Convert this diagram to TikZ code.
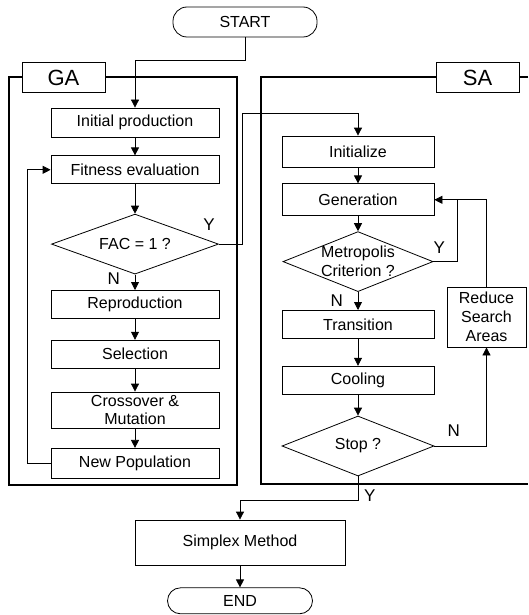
\documentclass[tikz,border=0pt]{standalone}
\usepackage{fontspec}
\setmainfont{Liberation Sans}
\usetikzlibrary{arrows.meta,positioning,shapes.geometric}

\begin{document}
\begin{tikzpicture}[
  x=1pt, y=-1pt,
  box/.style={draw, line width=0.8pt, minimum height=28pt, inner sep=1pt, align=center, font=\fontsize{16}{18}\selectfont},
  gabox/.style={box, minimum width=168pt},
  sabox/.style={box, minimum width=152pt},
  decision/.style={draw, line width=0.8pt, diamond, aspect=2.6, inner sep=0pt, minimum height=60pt, align=center, font=\fontsize{16}{19}\selectfont},
  terminal/.style={draw, line width=0.8pt, rounded corners=14pt, minimum width=144pt, inner sep=1pt, font=\fontsize{16}{18}\selectfont},
  tag/.style={draw, line width=0.9pt, fill=white, minimum width=83pt, minimum height=30pt, inner sep=0pt, font=\fontsize{22}{22}\selectfont},
  frame/.style={line width=1.8pt},
  yn/.style={inner sep=0pt, font=\fontsize{17}{17}\selectfont},
  arrow/.style={-{Triangle[length=8pt,width=8pt]}, line width=0.8pt}
]
\useasboundingbox (0,0) rectangle (528,615);

% GA and SA frames
\draw[frame] (9,77) rectangle (237,485);
\draw[frame] (528,77) -- (261,77) -- (261,484) -- (528,484);
\node[tag] (galabel) at (63.5,77.5) {GA};
\node[tag] (salabel) at (477.5,77.5) {SA};

\node[terminal, minimum height=30pt] (start) at (245,22) {START};

% GA column
\node[gabox, minimum height=29pt] (init) at (135,122.5) {Initial production};
\node[gabox, below=18pt of init] (fit) {Fitness evaluation};
\node[decision, minimum width=167pt, below=29.5pt of fit] (fac) {FAC = 1 ?};
\node[gabox, below=15.5pt of fac] (repro) {Reproduction};
\node[gabox, below=21pt of repro] (sel) {Selection};
\node[gabox, minimum height=36pt, below=23pt of sel] (cross) {Crossover \&\\Mutation};
\node[gabox, minimum height=30pt, below=19.5pt of cross] (newpop) {New Population};

% SA column
\node[sabox, minimum height=31pt] (initz) at (358,151.5) {Initialize};
\node[sabox, minimum height=32pt, below=16pt of initz] (gen) {Generation};
\node[decision, minimum width=150pt, inner xsep=-12pt, below=15pt of gen] (metro) {Metropolis\\Criterion ?};
\node[sabox, below=18pt of metro] (trans) {Transition};
\node[sabox, below=27pt of trans] (cool) {Cooling};
\node[decision, minimum width=152pt, below=21pt of cool] (stop) {Stop ?};
\node[box, minimum width=79pt, minimum height=60pt, font=\fontsize{16}{19}\selectfont] (reduce) at (486.5,317) {Reduce\\Search\\Areas};

\node[box, minimum width=210pt, minimum height=45pt] (simplex) at (240,542.5) {Simplex Method};
\node[terminal, minimum width=145pt, minimum height=26pt, rounded corners=13pt, below=22pt of simplex] (end) {END};

% branch labels
\node[yn, above left=13pt and 4pt of fac.east] (facy) {Y};
\node[yn, below left=-2pt and 15pt of fac.south] (facn) {N};
\node[yn, above right=8pt and 0pt of metro.east] (metroy) {Y};
\node[yn, below left=3pt and 15pt of metro.south] (metron) {N};
\node[yn, above right=9pt and 13pt of stop.east] (stopn) {N};
\node[yn, below right=13pt and 6pt of stop.south] (stopy) {Y};

\draw[arrow] (start.south) -- ++(0,23) -| (init.north);
\draw[arrow] (init) -- (fit);
\draw[arrow] (fit) -- (fac);
\draw[arrow] (fac) -- (repro);
\draw[arrow] (repro) -- (sel);
\draw[arrow] (sel) -- (cross);
\draw[arrow] (cross) -- (newpop);
\draw[arrow] (newpop.west) -- ++(-23,0) |- (fit.west);

\coordinate (gaexit) at (242,113);
\draw[arrow] (fac.east) -| (gaexit) -| (initz.north);

\draw[arrow] (initz) -- (gen);
\draw[arrow] (gen) -- (metro);
\draw[arrow] (metro) -- (trans);
\draw[arrow] (trans) -- (cool);
\draw[arrow] (cool) -- (stop);
\draw[line width=0.8pt] (metro.east) -- ++(24,0) |- (gen.east);
\draw[arrow] (reduce.north) |- (gen.east);
\draw[arrow] (stop.east) -| (reduce.south);
\draw[arrow] (stop.south) -- ++(0,24) -| (simplex.north);
\draw[arrow] (simplex) -- (end);
\end{tikzpicture}
\end{document}
